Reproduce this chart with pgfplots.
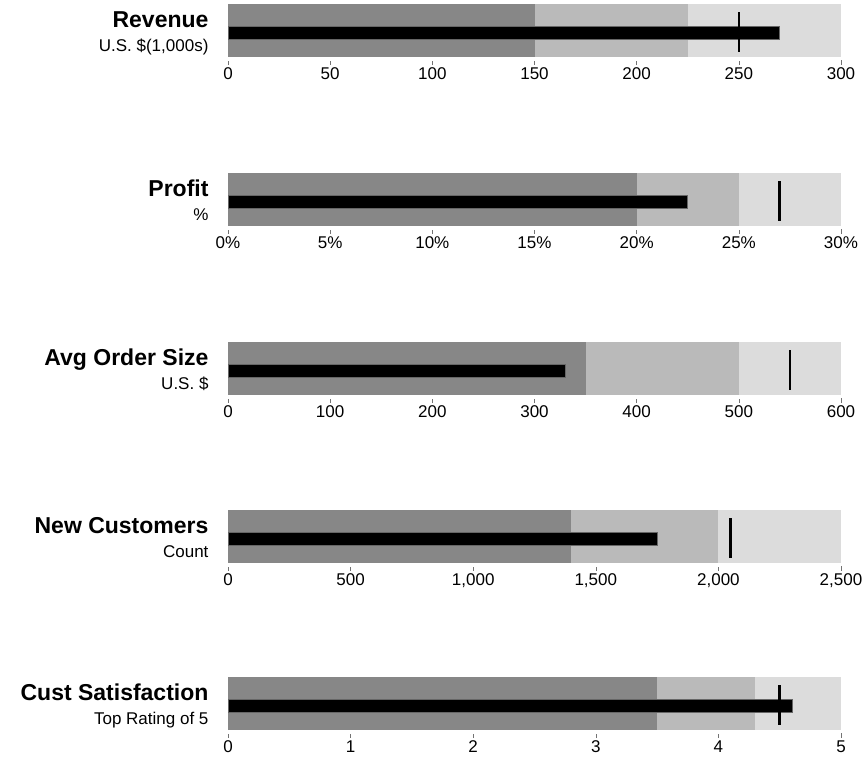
\documentclass[border=0pt]{standalone}
\usepackage{pgfplots}
\pgfplotsset{compat=1.18}
\usepackage{fontspec}
\setmainfont{Liberation Sans}

\definecolor{rangeA}{HTML}{878787}
\definecolor{rangeB}{HTML}{BABABA}
\definecolor{rangeC}{HTML}{DCDCDC}

\pgfplotsset{
  bullet/.style={
    scale only axis, width=613pt, height=56pt,
    ymin=-0.06, ymax=1, xmin=0,
    axis y line=none, axis x line*=bottom,
    axis line style={draw=white, thin},
    xtick style={draw=black!55, thin}, major tick length=5pt,
    tick align=outside,
    ticklabel style={font=\fontsize{17}{17}\selectfont, inner sep=0.5pt,
      text height=12pt, text depth=0pt},
    xticklabel style={yshift=-2pt},
    /pgf/number format/assume math mode=true,
    /pgf/number format/1000 sep={,},
    clip=false, anchor=north west,
  },
}
\tikzset{
  btitle/.style={anchor=base east, xshift=-16pt, font=\bfseries\fontsize{23}{23}\selectfont},
  bsub/.style={anchor=base east, xshift=-16pt, font=\fontsize{17}{17}\selectfont},
  measure/.style={fill=black, draw=black!60, line width=0.6pt},
  target/.style={black, line width=2.6pt},
}

\begin{document}
\begin{tikzpicture}
\useasboundingbox (0,0) rectangle (863pt,-758pt);

% Revenue
\begin{axis}[bullet, at={(228pt,-4pt)}, xmax=300, xtick={0,50,...,300}]
  \addplot[fill=rangeC, draw=none] coordinates {(0,0) (300,0) (300,1) (0,1)} -- cycle;
  \addplot[fill=rangeB, draw=none] coordinates {(0,0) (225,0) (225,1) (0,1)} -- cycle;
  \addplot[fill=rangeA, draw=none] coordinates {(0,0) (150,0) (150,1) (0,1)} -- cycle;
  \addplot[measure] coordinates {(0,0.34) (270,0.34) (270,0.585) (0,0.585)} -- cycle;
  \addplot[target] coordinates {(250,0.1) (250,0.84)};
  \node[btitle] at (axis cs:0,0.55) {Revenue};
  \node[bsub] at (axis cs:0,0.11) {U.S. \$(1,000s)};
\end{axis}

% Profit
\begin{axis}[bullet, at={(228pt,-173pt)}, xmax=30, xtick={0,5,...,30},
  xticklabel={\pgfmathprintnumber{\tick}\%}]
  \addplot[fill=rangeC, draw=none] coordinates {(0,0) (30,0) (30,1) (0,1)} -- cycle;
  \addplot[fill=rangeB, draw=none] coordinates {(0,0) (25,0) (25,1) (0,1)} -- cycle;
  \addplot[fill=rangeA, draw=none] coordinates {(0,0) (20,0) (20,1) (0,1)} -- cycle;
  \addplot[measure] coordinates {(0,0.34) (22.5,0.34) (22.5,0.585) (0,0.585)} -- cycle;
  \addplot[target] coordinates {(27,0.1) (27,0.84)};
  \node[btitle] at (axis cs:0,0.55) {Profit};
  \node[bsub] at (axis cs:0,0.11) {\%};
\end{axis}

% Avg Order Size
\begin{axis}[bullet, at={(228pt,-342pt)}, xmax=600, xtick={0,100,...,600}]
  \addplot[fill=rangeC, draw=none] coordinates {(0,0) (600,0) (600,1) (0,1)} -- cycle;
  \addplot[fill=rangeB, draw=none] coordinates {(0,0) (500,0) (500,1) (0,1)} -- cycle;
  \addplot[fill=rangeA, draw=none] coordinates {(0,0) (350,0) (350,1) (0,1)} -- cycle;
  \addplot[measure] coordinates {(0,0.34) (330,0.34) (330,0.585) (0,0.585)} -- cycle;
  \addplot[target] coordinates {(550,0.1) (550,0.84)};
  \node[btitle] at (axis cs:0,0.55) {Avg Order Size};
  \node[bsub] at (axis cs:0,0.11) {U.S. \$};
\end{axis}

% New Customers
\begin{axis}[bullet, at={(228pt,-510pt)}, xmax=2500, xtick={0,500,...,2500}]
  \addplot[fill=rangeC, draw=none] coordinates {(0,0) (2500,0) (2500,1) (0,1)} -- cycle;
  \addplot[fill=rangeB, draw=none] coordinates {(0,0) (2000,0) (2000,1) (0,1)} -- cycle;
  \addplot[fill=rangeA, draw=none] coordinates {(0,0) (1400,0) (1400,1) (0,1)} -- cycle;
  \addplot[measure] coordinates {(0,0.34) (1750,0.34) (1750,0.585) (0,0.585)} -- cycle;
  \addplot[target] coordinates {(2050,0.1) (2050,0.84)};
  \node[btitle] at (axis cs:0,0.55) {New Customers};
  \node[bsub] at (axis cs:0,0.11) {Count};
\end{axis}

% Cust Satisfaction
\begin{axis}[bullet, at={(228pt,-677pt)}, xmax=5, xtick={0,1,...,5}]
  \addplot[fill=rangeC, draw=none] coordinates {(0,0) (5,0) (5,1) (0,1)} -- cycle;
  \addplot[fill=rangeB, draw=none] coordinates {(0,0) (4.3,0) (4.3,1) (0,1)} -- cycle;
  \addplot[fill=rangeA, draw=none] coordinates {(0,0) (3.5,0) (3.5,1) (0,1)} -- cycle;
  \addplot[measure] coordinates {(0,0.34) (4.6,0.34) (4.6,0.585) (0,0.585)} -- cycle;
  \addplot[target] coordinates {(4.5,0.1) (4.5,0.84)};
  \node[btitle] at (axis cs:0,0.55) {Cust Satisfaction};
  \node[bsub] at (axis cs:0,0.11) {Top Rating of 5};
\end{axis}
\end{tikzpicture}
\end{document}
